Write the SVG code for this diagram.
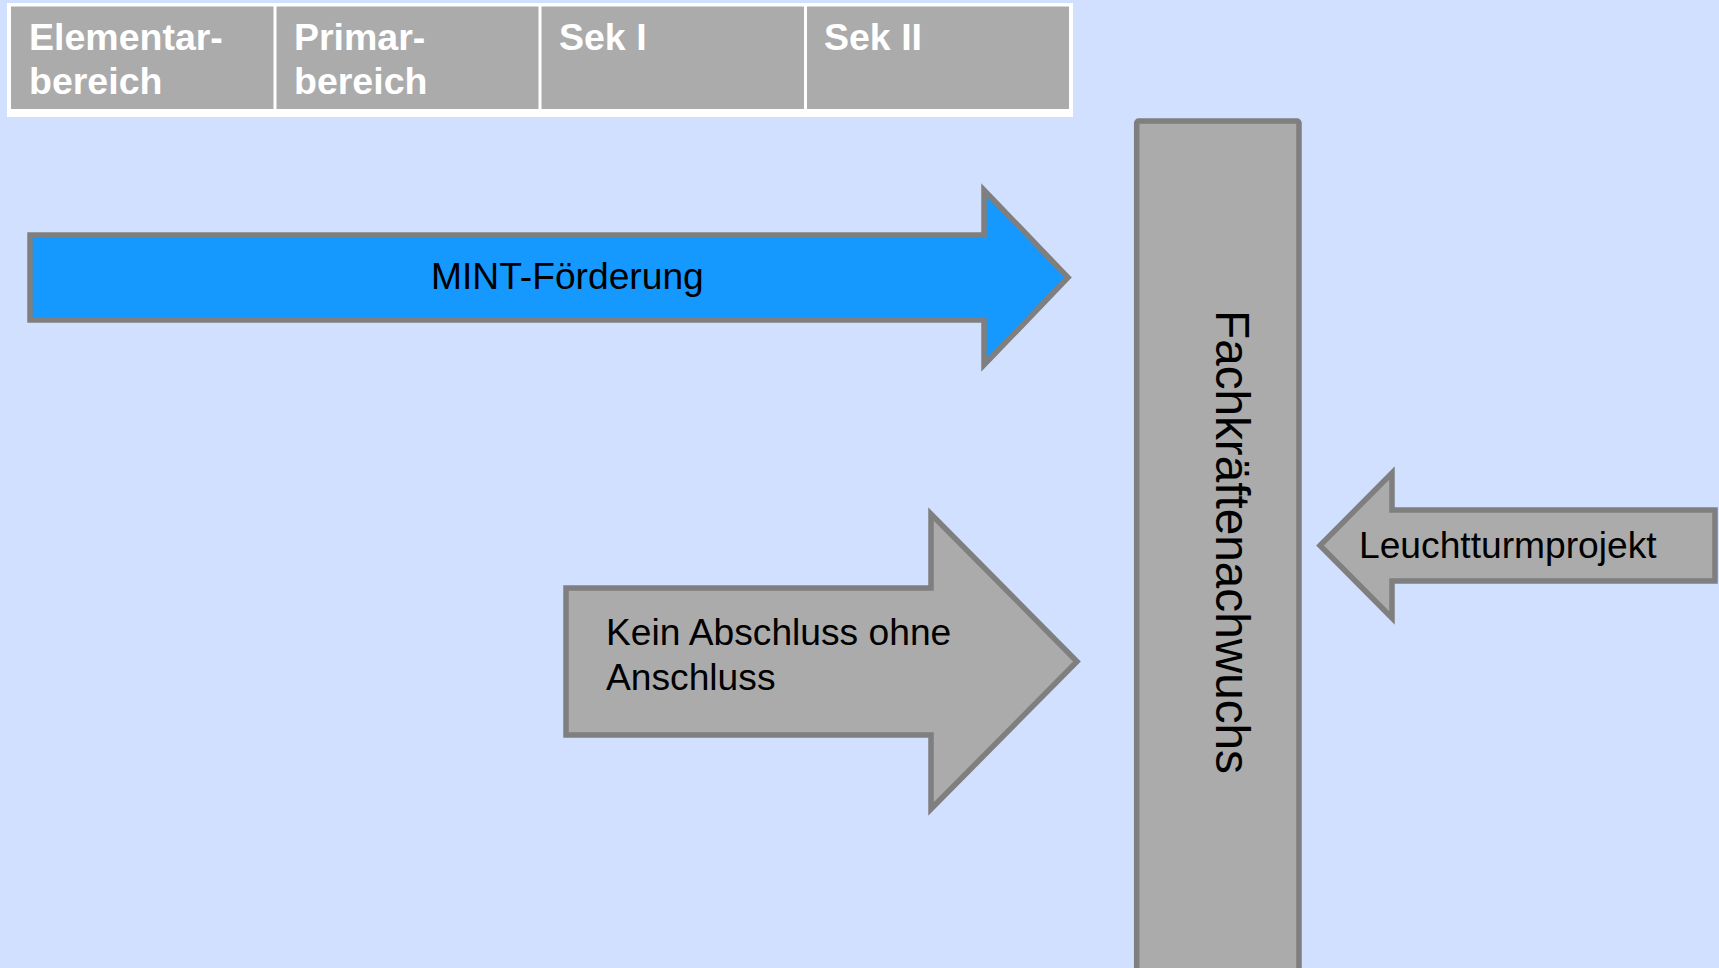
<svg xmlns="http://www.w3.org/2000/svg" width="1719" height="968" viewBox="0 0 1719 968">
<style>
.cell{fill:#ABABAB}
.hdr{font-family:"Liberation Sans",Arial,sans-serif;font-weight:bold;font-size:37.5px;fill:#FFFFFF}
.lbl{font-family:"Liberation Sans",Arial,sans-serif;font-size:37.2px;fill:#000000}
.shape{stroke:#7F7F7F;stroke-width:5.5;stroke-linejoin:miter}
.gray{fill:#ABABAB}
.blue{fill:#1599FF}
</style>
<rect x="0" y="0" width="1719" height="968" fill="#D2E0FF"/>
<g id="table">
<rect x="7" y="3" width="1066" height="114" fill="#FFFFFF"/>
<rect class="cell" x="11" y="6.5" width="262.5" height="102.5"/>
<rect class="cell" x="276.5" y="6.5" width="262" height="102.5"/>
<rect class="cell" x="541.5" y="6.5" width="262.5" height="102.5"/>
<rect class="cell" x="807" y="6.5" width="262" height="102.5"/>
<text class="hdr" x="29" y="50">Elementar-</text>
<text class="hdr" x="29" y="94">bereich</text>
<text class="hdr" x="294" y="50">Primar-</text>
<text class="hdr" x="294" y="94">bereich</text>
<text class="hdr" x="559" y="50">Sek I</text>
<text class="hdr" x="824" y="50">Sek II</text>
</g>
<g id="connectors">
<g id="mint">
<polygon class="shape blue" points="30,235 984,235 984,190 1068,277.5 984,365 984,320 30,320"/>
<text class="lbl" x="431" y="289">MINT-Förderung</text>
</g>
<g id="kein">
<polygon class="shape gray" points="566,588 931,588 931,514 1077,661.5 931,809 931,735 566,735"/>
<text class="lbl" x="606" y="645">Kein Abschluss ohne</text>
<text class="lbl" x="606" y="690">Anschluss</text>
</g>
<g id="leucht">
<polygon class="shape gray" points="1715,510 1392,510 1392,473 1320,545.5 1392,618 1392,581 1715,581"/>
<text class="lbl" x="1359" y="558">Leuchtturmprojekt</text>
</g>
</g>
<g id="fachkraefte">
<rect class="shape gray" x="1136.7" y="121" width="162.3" height="860" rx="2"/>
<text class="lbl" style="font-size:47.7px" transform="translate(1216,310) rotate(90)">Fachkräftenachwuchs</text>
</g>
</svg>
